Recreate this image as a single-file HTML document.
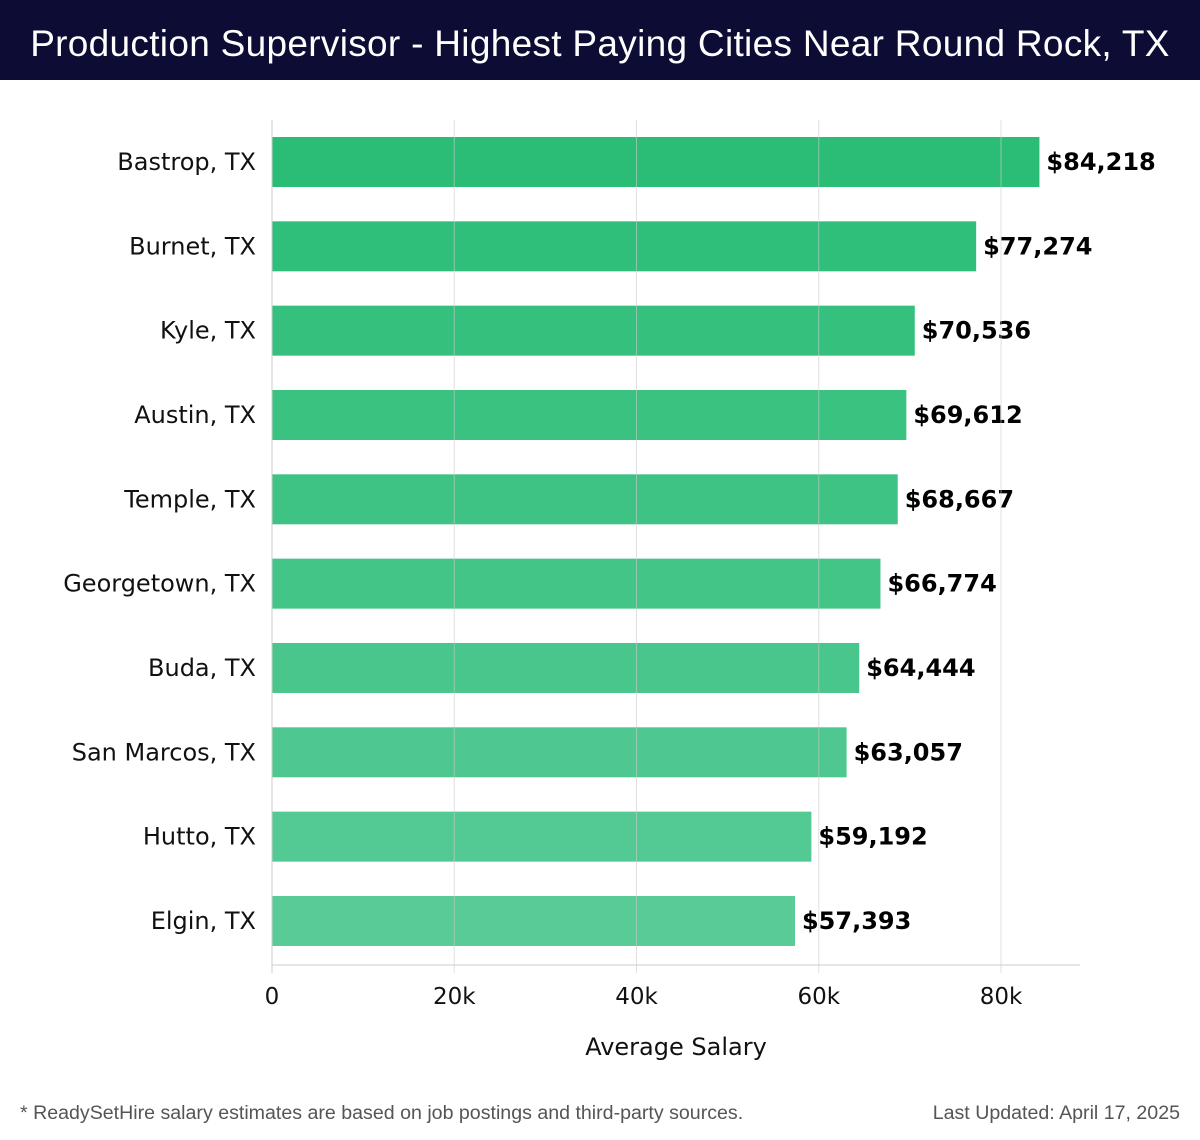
<!DOCTYPE html>
<html><head><meta charset="utf-8"><style>
body{margin:0;width:1200px;height:1140px;background:#fff;overflow:hidden;font-family:"DejaVu Sans","Liberation Sans",sans-serif}
#title{position:absolute;left:0;top:0;width:1200px;height:80px;background:#0d0c35;color:#fff;font-family:"Liberation Sans",sans-serif;font-size:37px;line-height:88px;text-align:center;white-space:nowrap;letter-spacing:0.3px}
svg{position:absolute;left:0;top:0}
</style></head><body>
<div id="title">Production Supervisor - Highest Paying Cities Near Round Rock, TX</div>
<svg id="chart" width="1200" height="1140"></svg>
<script>
const cities=["Bastrop, TX","Burnet, TX","Kyle, TX","Austin, TX","Temple, TX","Georgetown, TX","Buda, TX","San Marcos, TX","Hutto, TX","Elgin, TX"];
const salaries=[84218,77274,70536,69612,68667,66774,64444,63057,59192,57393];
const ticks=[0,20000,40000,60000,80000];
const tickLabels=["0","20k","40k","60k","80k"];
const NS="http://www.w3.org/2000/svg";
const svg=document.getElementById('chart');
const x0=272,x80=1001,top0=120,bot=965;
const xs=v=>x0+(v/80000)*(x80-x0);
const step=84.33;
const yc=i=>162+i*step;
function mk(t,a){const e=document.createElementNS(NS,t);for(const k in a)e.setAttribute(k,a[k]);svg.appendChild(e);return e;}
const c0=[43,189,118],c1=[88,203,151];
cities.forEach((c,i)=>{
  const f=i/(cities.length-1);
  const col=`rgb(${c0.map((v,j)=>Math.round(v+(c1[j]-v)*f)).join(',')})`;
  const r=mk('rect',{x:x0,y:yc(i)-25,width:xs(salaries[i])-x0,height:50,fill:col});
  
  
  const l=mk('text',{x:256,y:yc(i)+8,'text-anchor':'end','font-size':'24',fill:'#111'});
  l.textContent=c;
  
  
  const v=mk('text',{x:xs(salaries[i])+7,y:yc(i)+8,'font-size':'24','font-weight':'bold',fill:'#000'});
  v.textContent='$'+salaries[i].toLocaleString('en-US');
  
  
});
ticks.forEach((t,i)=>{
  const g=mk('line',{x1:xs(t),x2:xs(t),y1:top0,y2:bot+8,stroke:'#ccc','stroke-opacity':i?0.6:1,'stroke-width':1});
  
  
  const tl=mk('text',{x:xs(t),y:1004,'text-anchor':'middle','font-size':'23',fill:'#111'});
  tl.textContent=tickLabels[i];
  
  
});
const ax=mk('line',{x1:x0,x2:1080,y1:bot,y2:bot,stroke:'#ccc','stroke-width':1});


const at=mk('text',{x:676,y:1055,'text-anchor':'middle','font-size':'24',fill:'#111'});
at.textContent='Average Salary';


const f1=mk('text',{x:20,y:1119,'font-size':'19.6',fill:'#555','font-family':'Liberation Sans, sans-serif'});
f1.textContent='* ReadySetHire salary estimates are based on job postings and third-party sources.';


const f2=mk('text',{x:1180,y:1119,'text-anchor':'end','font-size':'19.6',fill:'#555','font-family':'Liberation Sans, sans-serif'});
f2.textContent='Last Updated: April 17, 2025';


</script>
</body></html>
